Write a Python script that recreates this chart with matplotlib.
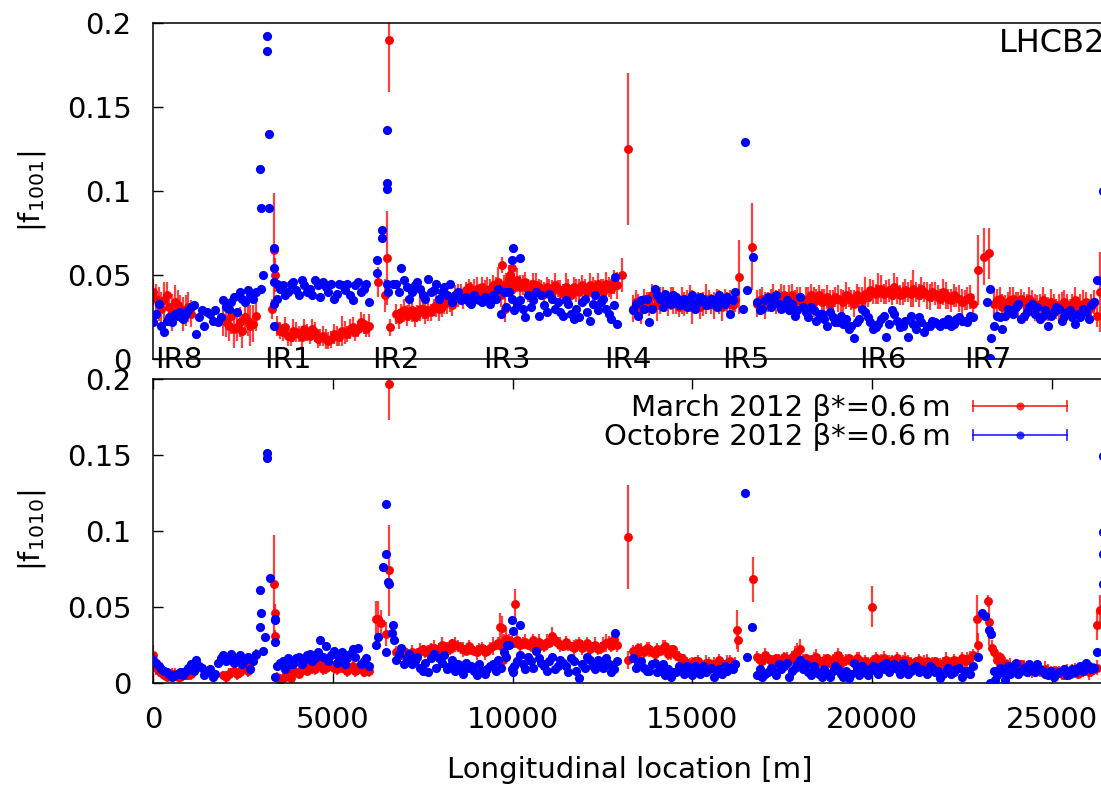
import numpy as np
import matplotlib
matplotlib.use('Agg')
import matplotlib.pyplot as plt
from matplotlib.lines import Line2D
from matplotlib.legend_handler import HandlerLine2D
from matplotlib.ticker import FuncFormatter

plt.rcParams['font.family'] = ['DejaVu Sans']
plt.rcParams['mathtext.default'] = 'regular'
plt.rcParams['font.size'] = 21

# BPM positions, first group (m)
s_bpm = [
    0, 150, 300, 450, 600, 750, 900, 1050, 1200, 1350, 1500, 1650, 1800, 1950, 2100, 2250, 2400, 2550, 2700, 2850,
    3450, 3600, 3750, 3900, 4050, 4200, 4350, 4500, 4650, 4800, 4950, 5100, 5250, 5400, 5550, 5700, 5850, 6000,
    6750, 6900, 7050, 7200, 7350, 7500, 7650, 7800, 7950, 8100, 8250, 8400, 8550, 8700, 8850, 9000, 9150, 9300,
    9450, 9600, 9750, 9900, 10050, 10200, 10350, 10500, 10650, 10800, 10950, 11100, 11250, 11400, 11550, 11700,
    11850, 12000, 12150, 12300, 12450, 12600, 12750, 12900,
    13350, 13500, 13650, 13800, 13950, 14100, 14250, 14400, 14550, 14700, 14850, 15000, 15150, 15300, 15450,
    15600, 15750, 15900, 16050, 16200,
    16800, 16950, 17100, 17250, 17400, 17550, 17700, 17850, 18000, 18150, 18300, 18450, 18600, 18750, 18900,
    19050, 19200, 19350, 19500, 19650, 19800, 19950, 20100, 20250, 20400, 20550, 20700, 20850, 21000, 21150,
    21300, 21450, 21600, 21750, 21900, 22050, 22200, 22350, 22500, 22650, 22800,
    23400, 23550, 23700, 23850, 24000, 24150, 24300, 24450, 24600, 24750, 24900, 25050, 25200, 25350, 25500,
    25650, 25800, 25950, 26100, 26250,
]
# BPM positions, second group (m)
s_bpm_b = [
    75, 225, 375, 525, 675, 825, 975, 1125, 1275, 1425, 1575, 1725, 1875, 2025, 2175, 2325, 2475, 2625, 2775,
    3525, 3675, 3825, 3975, 4125, 4275, 4425, 4575, 4725, 4875, 5025, 5175, 5325, 5475, 5625, 5775, 5925,
    6825, 6975, 7125, 7275, 7425, 7575, 7725, 7875, 8025, 8175, 8325, 8475, 8625, 8775, 8925, 9075, 9225, 9375,
    9525, 9675, 9825, 9975, 10125, 10275, 10425, 10575, 10725, 10875, 11025, 11175, 11325, 11475, 11625, 11775,
    11925, 12075, 12225, 12375, 12525, 12675, 12825,
    13425, 13575, 13725, 13875, 14025, 14175, 14325, 14475, 14625, 14775, 14925, 15075, 15225, 15375, 15525,
    15675, 15825, 15975, 16125,
    16875, 17025, 17175, 17325, 17475, 17625, 17775, 17925, 18075, 18225, 18375, 18525, 18675, 18825, 18975,
    19125, 19275, 19425, 19575, 19725, 19875, 20025, 20175, 20325, 20475, 20625, 20775, 20925, 21075, 21225,
    21375, 21525, 21675, 21825, 21975, 22125, 22275, 22425, 22575, 22725,
    23475, 23625, 23775, 23925, 24075, 24225, 24375, 24525, 24675, 24825, 24975, 25125, 25275, 25425, 25575,
    25725, 25875, 26025, 26175,
]

# |f1001|, March 2012 (red) with errors, October 2012 (blue)
f1001_mar = [
    0.040, 0.033, 0.035, 0.031, 0.034, 0.030, 0.029, 0.027, None, None, None, None, None, 0.024, 0.020, 0.018, 0.022, 0.025, 0.020, 0.026,
    0.020, 0.016, 0.014, 0.017, 0.015, 0.018, 0.014, 0.016, 0.013, 0.012, 0.012, 0.014, 0.017, 0.015, 0.019, 0.018, 0.021, 0.020,
    0.027, 0.028, 0.026, 0.029, 0.027, 0.030, 0.029, 0.031, 0.030, 0.033, 0.034, 0.037, 0.039, 0.041, 0.040, 0.042, 0.043, 0.041,
    0.044, 0.046, 0.043, 0.048, 0.045, 0.043, 0.046, 0.042, 0.044, 0.041, 0.043, 0.040, 0.042, 0.039, 0.041, 0.043,
    0.040, 0.042, 0.044, 0.041, 0.043, 0.045, 0.042, 0.044,
    0.030, 0.032, 0.036, 0.033, 0.037, 0.035, 0.034, 0.036, 0.033, 0.035, 0.034, 0.031, 0.034, 0.033, 0.035,
    0.032, 0.034, 0.036, 0.033, 0.035,
    0.033, 0.036, 0.034, 0.037, 0.035, 0.038, 0.036, 0.034, 0.037, 0.035, 0.038, 0.036, 0.034, 0.037, 0.035,
    0.036, 0.034, 0.037, 0.033, 0.036, 0.039, 0.041, 0.039, 0.042, 0.040, 0.038, 0.041, 0.039, 0.040, 0.042,
    0.038, 0.040, 0.037, 0.039, 0.036, 0.038, 0.035, 0.037, 0.034, 0.036, 0.033,
    0.033, 0.036, 0.032, 0.035, 0.033, 0.036, 0.031, 0.034, 0.032, 0.035, 0.030, 0.033, 0.031, 0.034, 0.030,
    0.035, 0.032, 0.034, 0.031, 0.026,
]
f1001_mar_err = [
    0.008, 0.010, 0.011, 0.009, 0.010, 0.008, 0.009, 0.008, None, None, None, None, None, 0.010, 0.009, 0.011, 0.009, 0.010, 0.012, 0.009,
    0.006, 0.005, 0.006, 0.007, 0.005, 0.006, 0.005, 0.006, 0.005, 0.006, 0.005, 0.006, 0.009, 0.005, 0.006, 0.005, 0.006, 0.007,
    0.006, 0.005, 0.006, 0.007, 0.005, 0.006, 0.006, 0.005, 0.007, 0.006, 0.006, 0.007, 0.006, 0.005, 0.006, 0.007,
    0.006, 0.008, 0.006, 0.009, 0.007, 0.008, 0.006, 0.007, 0.006, 0.005, 0.007, 0.006, 0.006, 0.007, 0.005, 0.006,
    0.007, 0.006, 0.008, 0.006, 0.007, 0.006, 0.005, 0.007, 0.006, 0.008,
    0.008, 0.007, 0.006, 0.007, 0.006, 0.008, 0.006, 0.007, 0.006, 0.008, 0.007, 0.010, 0.006, 0.007, 0.006,
    0.008, 0.007, 0.006, 0.008, 0.007,
    0.008, 0.007, 0.006, 0.008, 0.007, 0.006, 0.008, 0.007, 0.006, 0.008, 0.007, 0.006, 0.008, 0.007, 0.006,
    0.008, 0.007, 0.006, 0.008, 0.007, 0.010, 0.007, 0.006, 0.008, 0.007, 0.006, 0.008, 0.007, 0.006, 0.011,
    0.007, 0.006, 0.008, 0.007, 0.006, 0.008, 0.007, 0.006, 0.008, 0.007, 0.006,
    0.008, 0.007, 0.006, 0.008, 0.007, 0.006, 0.008, 0.007, 0.006, 0.008, 0.007, 0.006, 0.008, 0.007, 0.006,
    0.008, 0.007, 0.006, 0.008, 0.007,
]
f1001_oct = [
    0.022, 0.033, 0.016, 0.025, 0.027, 0.028, 0.027, 0.031, 0.015, 0.029, 0.028, 0.023, 0.022, 0.035, 0.030, 0.037, 0.040, 0.034, 0.038, 0.040,
    0.036, 0.044, 0.040, 0.046, 0.038, 0.044, 0.042, 0.047, 0.037, 0.043, 0.045, 0.039, 0.044, 0.045, 0.035, 0.046, 0.042, 0.034,
    0.045, 0.054, 0.043, 0.040, 0.046, 0.038, 0.048, 0.041, 0.036, 0.043, 0.045, 0.038, 0.035, 0.037, 0.033, 0.036, 0.034, 0.035,
    0.038, 0.042, 0.040, 0.040, 0.029, 0.035, 0.025, 0.031, 0.040, 0.038, 0.028, 0.036, 0.034, 0.026, 0.033, 0.024,
    0.025, 0.036, 0.023, 0.038, 0.034, 0.030, 0.024, 0.021,
    0.029, 0.026, 0.030, 0.022, 0.042, 0.036, 0.039, 0.033, 0.037, 0.035, 0.031, 0.038, 0.034, 0.036, 0.033,
    0.035, 0.038, 0.033, 0.027, 0.040,
    0.034, 0.030, 0.037, 0.035, 0.033, 0.032, 0.029, 0.026, 0.037, 0.028, 0.031, 0.023, 0.027, 0.020, 0.025,
    0.022, 0.021, 0.018, 0.0125, 0.024, 0.028, 0.022, 0.019, 0.024, 0.0135, 0.029, 0.023, 0.020, 0.0135, 0.021,
    0.025, 0.016, 0.020, 0.022, 0.020, 0.021, 0.020, 0.024, 0.023, 0.022, 0.025,
    0.020, 0.025, 0.026, 0.029, 0.031, 0.024, 0.028, 0.033, 0.031, 0.026, 0.020, 0.028, 0.030, 0.026, 0.029,
    0.021, 0.025, 0.028, 0.032, 0.047,
]
f1001_mar_b = [
    0.036, 0.030, 0.038, 0.028, 0.032, 0.027, 0.031, None, None, None, None, None, None, 0.022, 0.026, 0.019, 0.017, 0.023, 0.021,
    0.017, 0.019, 0.013, 0.016, 0.013, 0.016, 0.018, 0.012, 0.014, 0.011, 0.015, 0.013, 0.016, 0.018, 0.016, 0.022, 0.018,
    0.024, 0.029, 0.028, 0.025, 0.030, 0.027, 0.028, 0.032, 0.031, 0.035, 0.032, 0.038, 0.036, 0.043, 0.041, 0.039, 0.040, 0.042,
    0.041, 0.038, 0.045, 0.042, 0.047, 0.044, 0.041, 0.045, 0.043, 0.039, 0.042, 0.044, 0.041, 0.043, 0.038, 0.041,
    0.044, 0.040, 0.042, 0.045, 0.040, 0.043, 0.046,
    0.034, 0.029, 0.034, 0.038, 0.032, 0.037, 0.033, 0.035, 0.031, 0.033, 0.036, 0.033, 0.031, 0.036, 0.033,
    0.035, 0.031, 0.034, 0.032,
    0.035, 0.032, 0.036, 0.034, 0.037, 0.034, 0.038, 0.035, 0.033, 0.036, 0.034, 0.038, 0.035, 0.033, 0.037,
    0.035, 0.038, 0.035, 0.038, 0.035, 0.037, 0.040, 0.042, 0.039, 0.041, 0.043, 0.038, 0.041, 0.039, 0.040,
    0.042, 0.038, 0.040, 0.037, 0.040, 0.036, 0.038, 0.036, 0.035, 0.037,
    0.035, 0.031, 0.034, 0.036, 0.032, 0.034, 0.036, 0.031, 0.033, 0.032, 0.034, 0.030, 0.033, 0.031, 0.033,
    0.030, 0.033, 0.030, 0.034,
]
f1001_mar_b_err = [
    0.009, 0.010, 0.008, 0.011, 0.009, 0.010, 0.009, None, None, None, None, None, None, 0.009, 0.011, 0.008, 0.010, 0.009, 0.011,
    0.005, 0.006, 0.005, 0.006, 0.007, 0.005, 0.006, 0.005, 0.006, 0.005, 0.006, 0.005, 0.007, 0.006, 0.005, 0.006, 0.005,
    0.006, 0.007, 0.005, 0.006, 0.007, 0.006, 0.005, 0.007, 0.006, 0.008, 0.006, 0.007, 0.006, 0.005, 0.007, 0.006, 0.007, 0.006,
    0.008, 0.007, 0.006, 0.009, 0.007, 0.006, 0.007, 0.006, 0.005, 0.007, 0.006, 0.007, 0.006, 0.008, 0.006, 0.007,
    0.006, 0.005, 0.007, 0.006, 0.008, 0.006, 0.007,
    0.007, 0.008, 0.006, 0.007, 0.009, 0.006, 0.007, 0.008, 0.006, 0.007, 0.008, 0.006, 0.007, 0.009, 0.006,
    0.007, 0.008, 0.006, 0.007,
    0.007, 0.008, 0.006, 0.007, 0.008, 0.006, 0.007, 0.008, 0.006, 0.007, 0.009, 0.006, 0.007, 0.008, 0.006,
    0.007, 0.008, 0.006, 0.007, 0.008, 0.006, 0.007, 0.009, 0.006, 0.007, 0.008, 0.006, 0.007, 0.008, 0.006,
    0.007, 0.008, 0.006, 0.007, 0.008, 0.006, 0.007, 0.008, 0.006, 0.007,
    0.007, 0.008, 0.006, 0.007, 0.008, 0.006, 0.007, 0.008, 0.006, 0.007, 0.008, 0.006, 0.007, 0.008, 0.006,
    0.007, 0.008, 0.006, 0.007,
]
f1001_oct_b = [
    0.027, 0.020, 0.023, 0.022, 0.026, 0.024, 0.029, 0.032, 0.025, 0.020, 0.027, 0.029, 0.025, 0.031, 0.034, 0.028, 0.036, 0.041, 0.036,
    0.042, 0.038, 0.045, 0.041, 0.047, 0.040, 0.038, 0.044, 0.046, 0.040, 0.036, 0.045, 0.041, 0.038, 0.044, 0.040, 0.045,
    0.040, 0.047, 0.036, 0.044, 0.042, 0.036, 0.040, 0.045, 0.040, 0.038, 0.034, 0.040, 0.036, 0.034, 0.038, 0.035, 0.037, 0.033,
    0.036, 0.027, 0.031, 0.036, 0.033, 0.030, 0.038, 0.035, 0.026, 0.032, 0.039, 0.030, 0.028, 0.035, 0.027, 0.030,
    0.034, 0.028, 0.033, 0.029, 0.036, 0.027, 0.032,
    0.033, 0.035, 0.036, 0.030, 0.038, 0.031, 0.035, 0.038, 0.032, 0.036, 0.034, 0.030, 0.037, 0.032, 0.036,
    0.031, 0.034, 0.037, 0.035,
    0.029, 0.035, 0.031, 0.038, 0.030, 0.035, 0.033, 0.029, 0.031, 0.025, 0.029, 0.027, 0.024, 0.028, 0.022,
    0.026, 0.024, 0.020, 0.022, 0.030, 0.025, 0.018, 0.021, 0.026, 0.021, 0.027, 0.019, 0.023, 0.026, 0.018,
    0.022, 0.020, 0.023, 0.021, 0.022, 0.024, 0.021, 0.025, 0.023, 0.026,
    0.026, 0.018, 0.030, 0.027, 0.033, 0.026, 0.031, 0.027, 0.024, 0.029, 0.026, 0.031, 0.023, 0.028, 0.025,
    0.027, 0.030, 0.024, 0.034,
]

# |f1010|, same BPMs
f1010_mar = [
    0.018, 0.008, 0.005, 0.005, 0.006, 0.004, 0.005, 0.006, None, None, None, None, None, 0.005, 0.006, 0.008, 0.007, 0.009, 0.013, 0.018,
    0.004, 0.003, 0.005, 0.008, 0.006, 0.009, 0.011, 0.009, 0.012, 0.010, 0.011, 0.009, 0.010, 0.008, 0.011, 0.009, 0.007, 0.008,
    0.020, 0.018, 0.017, 0.020, 0.019, 0.022, 0.021, 0.023, 0.022, 0.024, 0.022, 0.025, 0.023, 0.021, 0.022, 0.020, 0.023, 0.021,
    0.024, 0.026, 0.027, 0.028, 0.026, 0.025, 0.027, 0.024, 0.026, 0.025, 0.027, 0.031, 0.026, 0.024, 0.025, 0.023,
    0.026, 0.024, 0.022, 0.025, 0.023, 0.026, 0.024, 0.025,
    0.021, 0.023, 0.020, 0.022, 0.019, 0.021, 0.024, 0.020, 0.018, 0.016, 0.013, 0.012, 0.014, 0.011, 0.013,
    0.012, 0.015, 0.012, 0.014, 0.012,
    0.017, 0.014, 0.016, 0.013, 0.015, 0.017, 0.014, 0.019, 0.022, 0.016, 0.014, 0.017, 0.013, 0.016, 0.015,
    0.018, 0.014, 0.016, 0.013, 0.015, 0.014, 0.012, 0.016, 0.014, 0.013, 0.015, 0.016, 0.013, 0.014, 0.012,
    0.015, 0.013, 0.011, 0.014, 0.012, 0.015, 0.013, 0.014, 0.016, 0.015, 0.018,
    0.020, 0.017, 0.013, 0.011, 0.010, 0.012, 0.009, 0.008, 0.010, 0.007, 0.008, 0.006, 0.007, 0.005, 0.006,
    0.008, 0.007, 0.009, 0.008, 0.010,
]
f1010_mar_err = [
    0.007, 0.004, 0.003, 0.003, 0.004, 0.003, 0.003, 0.004, None, None, None, None, None, 0.003, 0.004, 0.003, 0.004, 0.003, 0.005, 0.004,
    0.003, 0.004, 0.003, 0.004, 0.003, 0.004, 0.003, 0.004, 0.003, 0.004, 0.003, 0.004, 0.003, 0.004, 0.003, 0.004, 0.003, 0.004,
    0.004, 0.003, 0.004, 0.005, 0.004, 0.003, 0.004, 0.005, 0.004, 0.003, 0.004, 0.005, 0.004, 0.003, 0.004, 0.005,
    0.004, 0.003, 0.006, 0.004, 0.005, 0.004, 0.003, 0.004, 0.005, 0.004, 0.003, 0.004, 0.005, 0.006, 0.004, 0.003,
    0.004, 0.005, 0.004, 0.003, 0.004, 0.005, 0.004, 0.006, 0.004, 0.005,
    0.004, 0.003, 0.004, 0.005, 0.004, 0.003, 0.004, 0.005, 0.004, 0.003, 0.004, 0.005, 0.004, 0.003, 0.004,
    0.005, 0.004, 0.003, 0.004, 0.005,
    0.004, 0.003, 0.004, 0.005, 0.004, 0.003, 0.004, 0.005, 0.007, 0.003, 0.004, 0.005, 0.004, 0.003, 0.004,
    0.005, 0.004, 0.003, 0.004, 0.005, 0.004, 0.003, 0.004, 0.005, 0.004, 0.003, 0.004, 0.005, 0.004, 0.003,
    0.004, 0.005, 0.004, 0.003, 0.004, 0.005, 0.004, 0.003, 0.004, 0.005, 0.004,
    0.004, 0.003, 0.004, 0.005, 0.004, 0.003, 0.004, 0.005, 0.004, 0.003, 0.004, 0.005, 0.004, 0.003, 0.004,
    0.005, 0.004, 0.003, 0.004, 0.005,
]
f1010_oct = [
    0.015, 0.011, 0.008, 0.006, 0.005, 0.007, 0.008, 0.012, 0.015, 0.010, 0.007, 0.004, 0.013, 0.018, 0.017, 0.013, 0.018, 0.015, 0.009, 0.019,
    0.011, 0.014, 0.016, 0.012, 0.017, 0.015, 0.019, 0.016, 0.028, 0.024, 0.018, 0.013, 0.020, 0.016, 0.022, 0.023, 0.014, 0.011,
    0.015, 0.023, 0.016, 0.012, 0.017, 0.008, 0.007, 0.019, 0.016, 0.018, 0.011, 0.008, 0.009, 0.013, 0.011, 0.005, 0.008, 0.009,
    0.012, 0.015, 0.020, 0.025, 0.011, 0.018, 0.009, 0.014, 0.021, 0.013, 0.008, 0.017, 0.011, 0.013, 0.007, 0.014,
    0.003, 0.010, 0.015, 0.009, 0.013, 0.016, 0.007, 0.014,
    0.016, 0.012, 0.010, 0.008, 0.013, 0.009, 0.005, 0.004, 0.007, 0.009, 0.011, 0.005, 0.008, 0.011, 0.009,
    0.004, 0.009, 0.011, 0.010, 0.012,
    0.005, 0.004, 0.007, 0.008, 0.012, 0.011, 0.004, 0.010, 0.015, 0.012, 0.005, 0.008, 0.004, 0.006, 0.008,
    0.009, 0.004, 0.003, 0.013, 0.005, 0.007, 0.009, 0.008, 0.011, 0.013, 0.010, 0.009, 0.013, 0.006, 0.010,
    0.007, 0.008, 0.011, 0.007, 0.003, 0.008, 0.006, 0.009, 0.004, 0.008, 0.011,
    0.008, 0.010, 0.002, 0.006, 0.013, 0.008, 0.007, 0.010, 0.012, 0.008, 0.005, 0.004, 0.007, 0.009, 0.006,
    0.007, 0.011, 0.013, 0.009, 0.020,
]
f1010_mar_b = [
    0.010, 0.007, 0.004, 0.006, 0.004, 0.006, 0.005, None, None, None, None, None, None, 0.004, 0.007, 0.006, 0.010, 0.008, 0.015,
    0.002, 0.004, 0.003, 0.007, 0.010, 0.008, 0.010, 0.012, 0.009, 0.011, 0.010, 0.012, 0.009, 0.010, 0.008, 0.011, 0.010,
    0.019, 0.021, 0.019, 0.018, 0.021, 0.020, 0.023, 0.021, 0.025, 0.023, 0.026, 0.024, 0.022, 0.024, 0.021, 0.022, 0.020, 0.023,
    0.025, 0.024, 0.029, 0.027, 0.028, 0.026, 0.025, 0.028, 0.027, 0.024, 0.026, 0.028, 0.025, 0.027, 0.024, 0.025,
    0.023, 0.026, 0.024, 0.022, 0.025, 0.027, 0.029,
    0.018, 0.021, 0.023, 0.020, 0.022, 0.023, 0.019, 0.022, 0.017, 0.014, 0.012, 0.014, 0.012, 0.013, 0.011,
    0.013, 0.011, 0.013, 0.011,
    0.015, 0.018, 0.014, 0.016, 0.013, 0.015, 0.017, 0.020, 0.015, 0.013, 0.016, 0.014, 0.015, 0.013, 0.016,
    0.013, 0.015, 0.014, 0.016, 0.012, 0.013, 0.015, 0.013, 0.016, 0.014, 0.012, 0.014, 0.015, 0.013, 0.014,
    0.012, 0.014, 0.013, 0.011, 0.013, 0.012, 0.015, 0.013, 0.014, 0.016,
    0.015, 0.012, 0.010, 0.011, 0.009, 0.010, 0.008, 0.009, 0.008, 0.009, 0.007, 0.008, 0.006, 0.007, 0.008,
    0.006, 0.008, 0.007, 0.009,
]
f1010_mar_b_err = [
    0.005, 0.004, 0.003, 0.004, 0.003, 0.004, 0.003, None, None, None, None, None, None, 0.004, 0.003, 0.004, 0.003, 0.004, 0.005,
    0.004, 0.003, 0.004, 0.003, 0.004, 0.003, 0.004, 0.003, 0.004, 0.003, 0.004, 0.003, 0.004, 0.003, 0.004, 0.003, 0.004,
    0.005, 0.004, 0.003, 0.004, 0.005, 0.004, 0.003, 0.004, 0.005, 0.004, 0.003, 0.004, 0.005, 0.004, 0.003, 0.004, 0.005, 0.004,
    0.003, 0.004, 0.006, 0.004, 0.005, 0.004, 0.003, 0.004, 0.005, 0.004, 0.003, 0.004, 0.005, 0.004, 0.003, 0.004,
    0.005, 0.004, 0.003, 0.004, 0.005, 0.004, 0.003,
    0.004, 0.005, 0.004, 0.003, 0.004, 0.005, 0.004, 0.003, 0.004, 0.005, 0.004, 0.003, 0.004, 0.005, 0.004,
    0.003, 0.004, 0.005, 0.004,
    0.004, 0.005, 0.004, 0.003, 0.004, 0.005, 0.004, 0.006, 0.004, 0.003, 0.004, 0.005, 0.004, 0.003, 0.004,
    0.005, 0.004, 0.003, 0.004, 0.005, 0.004, 0.003, 0.004, 0.005, 0.004, 0.003, 0.004, 0.005, 0.004, 0.003,
    0.004, 0.005, 0.004, 0.003, 0.004, 0.005, 0.004, 0.003, 0.004, 0.005,
    0.004, 0.005, 0.004, 0.003, 0.004, 0.005, 0.004, 0.003, 0.004, 0.005, 0.004, 0.003, 0.004, 0.005, 0.004,
    0.003, 0.004, 0.005, 0.004,
]
f1010_oct_b = [
    0.013, 0.009, 0.007, 0.004, 0.006, 0.005, 0.010, 0.008, 0.011, 0.005, 0.009, 0.006, 0.016, 0.014, 0.019, 0.016, 0.012, 0.017, 0.014,
    0.013, 0.009, 0.012, 0.016, 0.012, 0.018, 0.014, 0.020, 0.017, 0.014, 0.021, 0.016, 0.012, 0.019, 0.017, 0.012, 0.016,
    0.019, 0.012, 0.019, 0.014, 0.010, 0.013, 0.016, 0.010, 0.013, 0.009, 0.015, 0.012, 0.006, 0.010, 0.008, 0.012, 0.006, 0.011,
    0.008, 0.010, 0.017, 0.009, 0.014, 0.012, 0.017, 0.010, 0.016, 0.011, 0.014, 0.009, 0.015, 0.011, 0.016, 0.008,
    0.012, 0.017, 0.011, 0.015, 0.010, 0.012, 0.009,
    0.010, 0.014, 0.008, 0.012, 0.007, 0.012, 0.009, 0.007, 0.011, 0.006, 0.008, 0.011, 0.006, 0.007, 0.010,
    0.008, 0.006, 0.008, 0.009,
    0.009, 0.006, 0.010, 0.005, 0.009, 0.013, 0.008, 0.012, 0.009, 0.007, 0.011, 0.006, 0.009, 0.004, 0.011,
    0.006, 0.008, 0.006, 0.009, 0.011, 0.005, 0.011, 0.006, 0.009, 0.007, 0.012, 0.006, 0.010, 0.008, 0.011,
    0.009, 0.006, 0.010, 0.008, 0.006, 0.010, 0.007, 0.010, 0.008, 0.006,
    0.005, 0.007, 0.011, 0.009, 0.006, 0.010, 0.012, 0.007, 0.009, 0.006, 0.008, 0.006, 0.008, 0.005, 0.009,
    0.010, 0.008, 0.011, 0.010,
]

# extra BPMs around the insertion regions (peaks)
ir_s_1001_mar = [3300, 3350, 3380, 6260, 6440, 6500, 6548, 6600, 9690, 9800, 9925, 9980, 13030, 13210,
                 16290, 16660, 22956, 23113, 23262, 26330]
ir_v_1001_mar = [0.030, 0.065, 0.050, 0.046, 0.038, 0.060, 0.190, 0.019, 0.056, 0.030, 0.050, 0.054, 0.050, 0.125,
                 0.049, 0.067, 0.053, 0.061, 0.063, 0.040]
ir_e_1001_mar = [0.006, 0.034, 0.010, 0.009, 0.010, 0.028, 0.031, 0.005, 0.005, 0.008, 0.006, 0.006, 0.010, 0.045,
                 0.022, 0.026, 0.021, 0.017, 0.015, 0.024]
ir_s_1001_oct = [2958, 3005, 3005, 3055, 3152, 3152, 3211, 3230, 3347, 3347, 3347, 3347, 3347, 3445,
                 6227, 6227, 6372, 6372, 6500, 6500, 6500, 6500, 6540, 6664, 9830, 9970, 10017, 10203, 12846,
                 16400, 16463, 16510, 16677, 23200, 23280, 23280, 23320, 26420, 26420]
ir_v_1001_oct = [0.113, 0.090, 0.042, 0.050, 0.192, 0.183, 0.134, 0.090, 0.066, 0.054, 0.046, 0.033, 0.020, 0.045,
                 0.051, 0.059, 0.077, 0.072, 0.136, 0.105, 0.101, 0.045, 0.040, 0.045, 0.040, 0.059, 0.066, 0.060, 0.049,
                 0.030, 0.129, 0.041, 0.061, 0.034, 0.042, 0.001, 0.0125, 0.100, 0.046]
ir_s_1010_mar = [3366, 3380, 3390, 6208, 6260, 6350, 6480, 6560, 6560, 9646, 9690, 9740, 10063, 13210, 13217,
                 16232, 16280, 16680, 19988, 22910, 22950, 23234, 23252, 23330, 26248, 26341]
ir_v_1010_mar = [0.065, 0.046, 0.031, 0.042, 0.042, 0.039, 0.032, 0.197, 0.074, 0.037, 0.036, 0.015, 0.052, 0.096, 0.015,
                 0.035, 0.028, 0.068, 0.050, 0.042, 0.025, 0.054, 0.040, 0.023, 0.038, 0.048]
ir_e_1010_mar = [0.032, 0.006, 0.004, 0.012, 0.012, 0.009, 0.008, 0.024, 0.030, 0.009, 0.008, 0.007, 0.010, 0.034, 0.006,
                 0.013, 0.008, 0.015, 0.0135, 0.016, 0.008, 0.004, 0.016, 0.005, 0.010, 0.010]
ir_s_1010_oct = [2957, 2980, 3000, 3050, 3100, 3152, 3170, 3250, 3380, 3390, 3400, 3385,
                 6208, 6260, 6400, 6470, 6470, 6470, 6540, 6560, 6640, 6665, 6700,
                 9832, 9970, 10010, 10010, 10203, 12846, 16463, 16510, 16650,
                 22955, 23048, 23140, 23262, 23300, 23280, 23420, 26420, 26420, 26420, 26420]
ir_v_1010_oct = [0.061, 0.037, 0.046, 0.021, 0.030, 0.151, 0.148, 0.069, 0.042, 0.027, 0.041, 0.004,
                 0.025, 0.030, 0.076, 0.118, 0.085, 0.020, 0.066, 0.065, 0.033, 0.038, 0.028,
                 0.025, 0.041, 0.034, 0.007, 0.038, 0.0325, 0.125, 0.017, 0.037,
                 0.017, 0.0456, 0.044, 0.035, 0.032, 0.000, 0.002, 0.149, 0.099, 0.085, 0.065]

ir_names = ['IR8', 'IR1', 'IR2', 'IR3', 'IR4', 'IR5', 'IR6', 'IR7']
ir_label_s = [50, 3080, 6095, 9165, 12540, 15832, 19636, 22570]

legend_labels = ['March 2012 β*=0.6\u2009m', 'Octobre 2012 β*=0.6\u2009m']
yticks = [0, 0.05, 0.1, 0.15, 0.2]
xticks = [0, 5000, 10000, 15000, 20000, 25000]

for arr in (f1001_mar, f1001_mar_err, f1001_oct, f1010_mar, f1010_mar_err, f1010_oct):
    assert len(arr) == len(s_bpm), len(arr)
for arr in (f1001_mar_b, f1001_mar_b_err, f1001_oct_b, f1010_mar_b, f1010_mar_b_err, f1010_oct_b):
    assert len(arr) == len(s_bpm_b), len(arr)
assert len(ir_s_1010_oct) == len(ir_v_1010_oct)


class GnuKeyHandler(HandlerLine2D):
    # line with end caps, like the gnuplot key for error bars
    def create_artists(self, legend, orig_handle, xdescent, ydescent,
                       width, height, fontsize, trans):
        arts = super().create_artists(legend, orig_handle, xdescent, ydescent,
                                      width, height, fontsize, trans)
        yc = (height - ydescent) / 2
        for x in (-xdescent, width - xdescent):
            cap = Line2D([x, x], [yc - 3.6, yc + 3.6], color=orig_handle.get_color(),
                         lw=orig_handle.get_linewidth(), alpha=orig_handle.get_alpha())
            cap.set_transform(trans)
            arts.append(cap)
        return arts


def join(*parts):
    return np.concatenate([np.array(p, dtype=float) for p in parts])


def draw_panel(ax, s_red, v_red, e_red, s_blue, v_blue):
    ax.errorbar(s_red, v_red, yerr=e_red, fmt='o', color='red', ms=6.4, mew=0,
                ecolor=(1, 0, 0, 0.75), elinewidth=1.6, capsize=3.6, capthick=1.6, zorder=2)
    ax.plot(s_blue, v_blue, 'o', color='blue', ms=6.6, mew=0, zorder=3)
    ax.set_xlim(0, 26659)
    ax.set_ylim(0, 0.2)
    ax.set_yticks(yticks)
    ax.yaxis.set_major_formatter(FuncFormatter(lambda v, p: '%g' % v))
    ax.tick_params(axis='y', direction='in', length=7.5, width=1, left=True, right=True, pad=15.5, labelsize=21)
    for sp in ax.spines.values():
        sp.set_linewidth(1.1)


fig = plt.figure(figsize=(11.01, 7.85), dpi=100)
ax1 = fig.add_axes([0.1392, 0.5423, 0.8702, 0.4288])
ax2 = fig.add_axes([0.1392, 0.1303, 0.8702, 0.3869])

draw_panel(ax1,
           join(s_bpm, s_bpm_b, ir_s_1001_mar),
           join(f1001_mar, f1001_mar_b, ir_v_1001_mar),
           join(f1001_mar_err, f1001_mar_b_err, ir_e_1001_mar),
           join(s_bpm, s_bpm_b, ir_s_1001_oct),
           join(f1001_oct, f1001_oct_b, ir_v_1001_oct))
ax1.tick_params(axis='x', bottom=False, top=False, labelbottom=False)
ax1.set_ylabel('|f$_{1001}$|')
ax1.yaxis.set_label_coords(-0.110, 0.5)
ax1.text(0.8827, 0.913, 'LHCB2', transform=ax1.transAxes, ha='left', va='baseline', fontsize=23)
for name, pos in zip(ir_names, ir_label_s):
    ax1.text(pos, -0.005, name, ha='left', va='baseline', fontsize=21)

draw_panel(ax2,
           join(s_bpm, s_bpm_b, ir_s_1010_mar),
           join(f1010_mar, f1010_mar_b, ir_v_1010_mar),
           join(f1010_mar_err, f1010_mar_b_err, ir_e_1010_mar),
           join(s_bpm, s_bpm_b, ir_s_1010_oct),
           join(f1010_oct, f1010_oct_b, ir_v_1010_oct))
ax2.set_xticks(xticks)
ax2.tick_params(axis='x', direction='in', length=7.5, width=1, top=True, pad=16.5, labelsize=21)
ax2.set_ylabel('|f$_{1010}$|')
ax2.yaxis.set_label_coords(-0.110, 0.5)
ax2.set_xlabel('Longitudinal location [m]')
ax2.xaxis.set_label_coords(0.4975, -0.241)

h_red = Line2D([], [], color='red', marker='o', ms=5.8, mew=0, lw=1.3, alpha=0.8)
h_blue = Line2D([], [], color='blue', marker='o', ms=5.8, mew=0, lw=1.3, alpha=0.8)
ax2.legend([h_red, h_blue], legend_labels, loc='upper right', bbox_to_anchor=(0.9537, 0.951),
           frameon=False, markerfirst=False, numpoints=1, handlelength=3.23, handletextpad=0.75,
           labelspacing=0.05, borderpad=0, borderaxespad=0, fontsize=21,
           handler_map={Line2D: GnuKeyHandler()})

fig.savefig('out.png', dpi=100)
